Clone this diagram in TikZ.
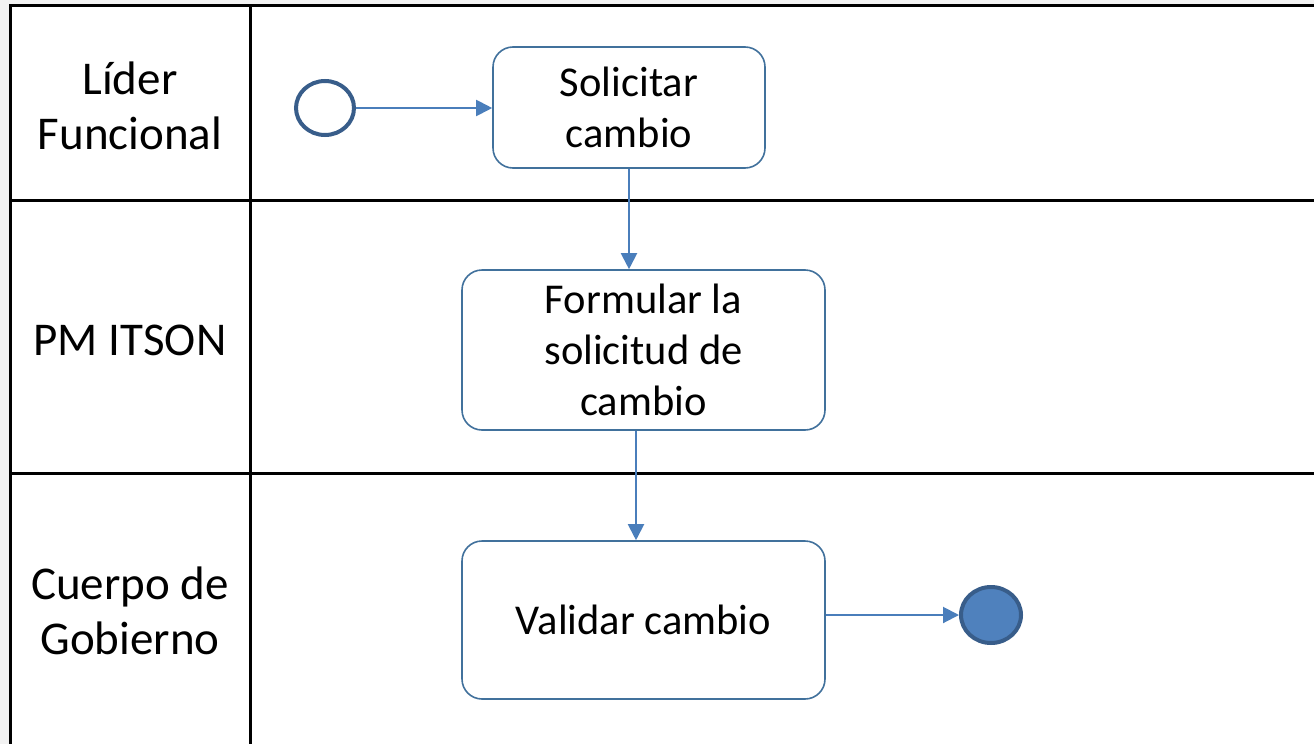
\documentclass[tikz,border=0pt]{standalone}
\usepackage{fontspec}
\setmainfont{Carlito}
\usetikzlibrary{arrows.meta,calc,shapes.geometric}
\definecolor{boxline}{HTML}{41719C}
\definecolor{arrowc}{HTML}{4A7EBB}
\definecolor{circline}{HTML}{385D8A}
\definecolor{circfill}{HTML}{4F81BD}
\definecolor{bg}{HTML}{F2F2F2}
\tikzset{
  lanelabel/.style={align=center,font=\fontsize{47}{55}\selectfont},
  taskbox/.style={draw=boxline,line width=1.6pt,rounded corners=20pt,align=center,
    font=\fontsize{42.5}{51}\selectfont,inner sep=0pt},
  flow/.style={draw=arrowc,line width=2pt,-{Triangle[length=16pt,width=16pt]}},
  tline/.style={line width=3pt,black}
}
\begin{document}
\begin{tikzpicture}[x=1pt,y=-1pt]
\useasboundingbox (0,0) rectangle (1314,744);
\fill[bg] (0,0) rectangle (1314,744);
\fill[white] (10,5) rectangle (1314,744);
% table lines
\draw[tline] (1314,5) -- (10,5) -- (10,744);
\draw[tline] (250,5) -- (250,744);
\draw[tline] (10,200) -- (1314,200);
\draw[tline] (10,473) -- (1314,473);
% lane labels
\node[lanelabel] (l1) at (130,106) {Líder\\Funcional};
\node[lanelabel] (l2) at (130,340) {PM ITSON};
\node[lanelabel] (l3) at (130,611) {Cuerpo de\\Gobierno};
% events
\node[draw=circline,line width=4pt,fill=white,ellipse,minimum width=58pt,minimum height=54pt,inner sep=0pt] (start) at (325,108) {};
\node[draw=circline,line width=4pt,fill=circfill,ellipse,minimum width=60pt,minimum height=56pt,inner sep=0pt] (end) at (991,615) {};
% tasks
\node[taskbox,minimum width=272pt,minimum height=121pt] (b1) at (629,107.5) {Solicitar\\cambio};
\node[taskbox,minimum width=363pt,minimum height=160pt] (b2) at (643.5,350) {Formular la\\solicitud de\\cambio};
\node[taskbox,minimum width=363pt,minimum height=158pt] (b3) at (643.5,620) {Validar cambio};
% flows
\draw[flow] (start.east) -- (start.east -| b1.west);
\draw[flow] (b1.south) -- (b1.south |- b2.north);
\draw[flow] ([xshift=-7.5pt]b2.south) -- ([xshift=-7.5pt]b2.south |- b3.north);
\draw[flow] (b3.east |- end.west) -- (end.west);
\end{tikzpicture}
\end{document}
